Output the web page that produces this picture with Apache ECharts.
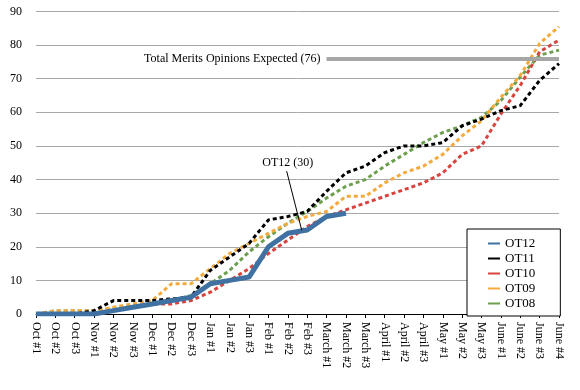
<!DOCTYPE html>
<html>
<head>
<meta charset="utf-8">
<script src="https://cdn.jsdelivr.net/npm/echarts@6/dist/echarts.min.js"></script>
<style>html,body{margin:0;padding:0;background:#fff}#c{width:580px;height:390px}</style>
</head>
<body>
<div id="c"></div>
<script>
var categories = ['Oct #1','Oct #2','Oct #3','Nov #1','Nov #2','Nov #3','Dec #1','Dec #2','Dec #3','Jan #1','Jan #2','Jan #3','Feb #1','Feb #2','Feb #3','March #1','March #2','March #3','April #1','April #2','April #3','May #1','May #2','May #3','June #1','June #2','June #3','June #4'];
var yTicks = [0,10,20,30,40,50,60,70,80,90];
var ot12 = [0,0,0,0,1,2,3,4,5,9,10,11,20,24,25,29,30];
var ot11 = [0,0,0,1,4,4,4,4.5,5,13,17,21,28,29,30.5,36.5,42,44,48,50,50,51,56,58,60.5,62,69.5,74.5];
var ot10 = [0,0,0,0,1,2,3,3,4,6.5,10,13.5,18,22,26,29,31,33,35,37,39,42,47.5,50,59.5,68,78,81.5];
var ot09 = [0,1,1,1,2,3,4,9,9,13.5,18,21,24,27,29,30.5,35,35,39,42,44,47.5,53,57.5,64.5,71,80.5,85.5];
var ot08 = [0,1,1,1,1.5,2.5,3,4,5.5,9,13,18.5,23,27,30.5,34.5,38,40,44,47.5,51,54,56,58.5,63.5,70.5,77,78.5];
var expected = 76;
var expectedLabel = 'Total Merits Opinions Expected (76)';
var ot12Label = 'OT12 (30)';
// annotation anchor points in data units (x as category index)
var leaderTop = [12.94, 42.5];
var leaderBottom = [13.72, 24.9];
var labelPos = [13.0, 45];

var serif = '"Liberation Serif","DejaVu Serif",serif';
var colors = {ot12:'#3f72a3', ot11:'#000000', ot10:'#d8443d', ot09:'#f4aa3d', ot08:'#6c9f4e'};

function dashed(name, data, color){
  return {name:name, type:'line', data:data, symbol:'none', smooth:false,
    lineStyle:{color:color, width:3, type:[4,3]}, itemStyle:{color:color},
    emphasis:{disabled:true}, z:2};
}

var chart = echarts.init(document.getElementById('c'), null, {renderer:'canvas'});
var option = {
  animation:false,
  backgroundColor:'#fff',
  grid:{left:36, right:21, top:11.5, bottom:76, containLabel:false},
  legend:{
    data:['OT12','OT11','OT10','OT09','OT08'],
    orient:'vertical', left:467, top:229,
    padding:[8,25,6,21], itemGap:2, itemWidth:12, itemHeight:12,
    borderColor:'#000', borderWidth:1, backgroundColor:'#fff',
    textStyle:{fontFamily:serif, fontSize:13, color:'#000'},
    lineStyle:{type:'solid', width:3},
    icon:'path://M0,5L12,5L12,7L0,7Z',
    z:10
  },
  xAxis:[{
    type:'category', data:categories, boundaryGap:false,
    axisLine:{show:true, lineStyle:{color:'#000', width:1}},
    axisTick:{show:true, length:4, lineStyle:{color:'#000'}},
    axisLabel:{rotate:-90, interval:0, margin:8, fontFamily:serif, fontSize:12, color:'#000'},
    splitLine:{show:false}
  },{
    type:'value', min:0, max:categories.length-1, show:false
  }],
  yAxis:{
    type:'value', min:0, max:90, interval:10,
    axisLine:{show:false}, axisTick:{show:false},
    axisLabel:{margin:14, fontFamily:serif, fontSize:12, color:'#000',
      formatter:function(v){return yTicks.indexOf(v)>=0 ? String(v) : '';}},
    splitLine:{show:true, lineStyle:{color:'#a8a8a8', width:1}}
  },
  series:[
    dashed('OT08', ot08, colors.ot08),
    dashed('OT09', ot09, colors.ot09),
    dashed('OT10', ot10, colors.ot10),
    dashed('OT11', ot11, colors.ot11),
    {name:'OT12', type:'line', data:ot12, symbol:'none',
      lineStyle:{color:colors.ot12, width:5, type:'solid'}, itemStyle:{color:colors.ot12},
      emphasis:{disabled:true}, z:3,
      markLine:{silent:true, symbol:'none', animation:false,
        lineStyle:{color:'#a6a6a6', width:4, type:'solid'},
        label:{show:true, position:'start', formatter:expectedLabel, fontFamily:serif, fontSize:12, color:'#000', distance:6},
        emphasis:{disabled:true},
        data:[[{coord:['March #1', expected]},{coord:['June #4', expected]}]]
      }
    }
  ]
};
chart.setOption(option);

var pTop = chart.convertToPixel({xAxisIndex:1, yAxisIndex:0}, leaderTop);
var pBot = chart.convertToPixel({xAxisIndex:1, yAxisIndex:0}, leaderBottom);
var pLab = chart.convertToPixel({xAxisIndex:1, yAxisIndex:0}, labelPos);
chart.setOption({graphic:[
  {type:'line', shape:{x1:pTop[0], y1:pTop[1], x2:pBot[0], y2:pBot[1]}, style:{stroke:'#000', lineWidth:1}, z:20, silent:true},
  {type:'text', x:pLab[0], y:pLab[1], style:{text:ot12Label, fill:'#000', font:'12px '+serif, textAlign:'center', textVerticalAlign:'middle'}, z:20, silent:true}
]});
</script>
</body>
</html>
